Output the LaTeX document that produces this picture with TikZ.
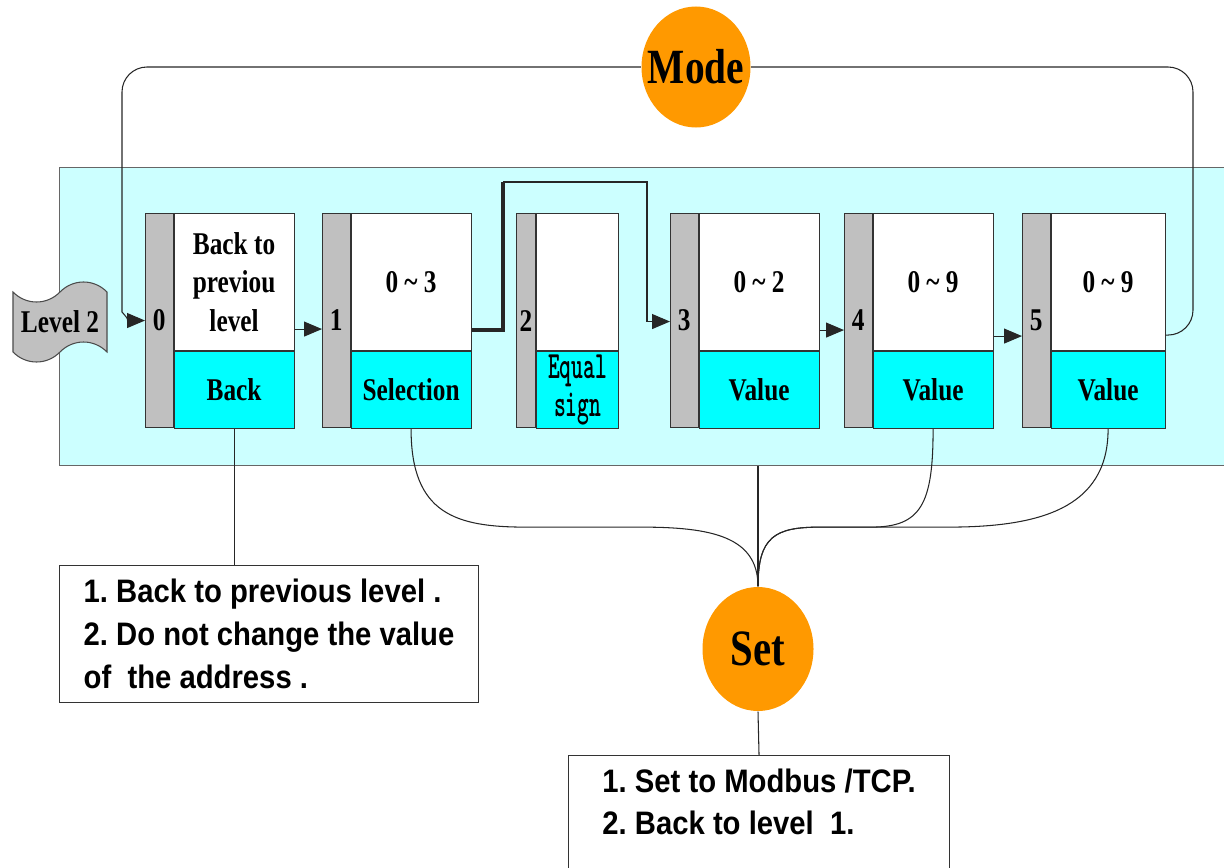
\documentclass[tikz,border=0pt]{standalone}
\usepackage{graphicx}
\usepackage{fontspec}
\setmainfont{Liberation Serif}
\newfontfamily\condserif[FakeStretch=0.8]{Liberation Serif}
\newfontfamily\condsans[FakeStretch=0.9]{Liberation Sans}
\usetikzlibrary{arrows.meta,positioning,calc,shapes.geometric,shapes.symbols}
\frenchspacing

\definecolor{panelcyan}{RGB}{204,255,255}
\definecolor{fieldcyan}{RGB}{0,255,255}
\definecolor{stripgray}{RGB}{192,192,192}
\definecolor{keyorange}{RGB}{255,153,0}

\tikzset{
  >={Triangle[length=3.6mm,width=3mm]},
  every picture/.append style={line width=0.6pt},
}
\newcommand{\cellfont}{\condserif\bfseries\fontsize{18}{22}\selectfont}
\newcommand{\keyfont}{\condserif\bfseries\fontsize{28}{30}\selectfont}
\newcommand{\notefont}{\condsans\bfseries\fontsize{18.5}{24.4}\selectfont}
\newcommand{\signfont}{\ttfamily\bfseries\fontsize{22}{21.5}\selectfont}
\newcommand{\squeeze}[1]{\scalebox{0.58}[1]{#1}}

\begin{document}
\begin{tikzpicture}[
  x=0.2mm, y=-0.2mm,
  strip/.style={draw=black!80, fill=stripgray, minimum width=5.5mm, minimum height=42.8mm, inner sep=0pt, anchor=north west, font=\cellfont},
  cellhead/.style={draw=black!80, fill=white, minimum width=24mm, minimum height=27.4mm, inner sep=0pt, align=center, anchor=north west, font=\cellfont},
  cellfoot/.style={draw=black!80, fill=fieldcyan, minimum width=24mm, minimum height=15.4mm, inner sep=0pt, align=center, font=\cellfont},
  bubble/.style={ellipse, fill=keyorange, inner sep=0pt, font=\keyfont},
  note/.style={draw=black!80, fill=white, align=left, inner xsep=0pt, anchor=north west, font=\notefont},
  link/.style={draw=black!85},
  arrow/.style={->, draw=black!85}
]
\useasboundingbox (0,0) rectangle (1224,867);

% --- backdrop of level 2 ---
\node[draw=black!60, fill=panelcyan, minimum width=240mm, minimum height=59.6mm, anchor=north west, inner sep=0pt] (panel) at (59,167) {};
\node[tape, draw=black!70, fill=stripgray, minimum width=18.8mm, minimum height=16mm, tape bend height=4mm, inner sep=0pt, font=\cellfont] (level) at (60,322) {Level 2};

% --- address cells 0..5 ---
\node[strip] (s0) at (145,213) {0};
\node[cellhead] (t0) at (s0.north east) {Back to\\previou\\level};
\node[cellfoot, below=0pt of t0] (v0) {Back};

\node[strip] (s1) at (322,213) {1};
\node[cellhead] (t1) at (s1.north east) {0 \textasciitilde\ 3};
\node[cellfoot, below=0pt of t1] (v1) {Selection};

\node[strip, minimum width=3.8mm] (s2) at (516,213) {2};
\node[cellhead, minimum width=16.4mm] (t2) at (s2.north east) {};
\node[cellfoot, minimum width=16.4mm, below=0pt of t2, font=\signfont] (v2) {\squeeze{Equal}\\\squeeze{sign}};

\node[strip] (s3) at (670,213) {3};
\node[cellhead] (t3) at (s3.north east) {0 \textasciitilde\ 2};
\node[cellfoot, below=0pt of t3] (v3) {Value};

\node[strip] (s4) at (844,213) {4};
\node[cellhead] (t4) at (s4.north east) {0 \textasciitilde\ 9};
\node[cellfoot, below=0pt of t4] (v4) {Value};

\node[strip] (s5) at (1022,213) {5};
\node[cellhead, minimum width=22.8mm] (t5) at (s5.north east) {0 \textasciitilde\ 9};
\node[cellfoot, minimum width=22.8mm, below=0pt of t5] (v5) {Value};

% --- keys ---
\node[bubble, minimum width=21.8mm, minimum height=24.2mm] (mode) at (696,67) {\makebox[0pt]{Mode}};
\node[bubble, minimum width=22.2mm, minimum height=24.8mm, font=\condserif\bfseries\fontsize{29}{30}\selectfont] (set) at (758,649) {\makebox[0pt]{Set}};

% --- notes ---
\node[note, minimum width=83.8mm, minimum height=27.4mm] (backnote) at (59,565) {1. Back to previous level .\\2. Do not change the value\\of\ \ the address .};
\node[note, minimum width=76.2mm, inner ysep=2.6mm, text depth=10mm] (setnote) at (568,755) {1. Set to Modbus /TCP.\\2. Back to level\ \ 1.};

% --- forward chain ---
\coordinate (jog) at (503,182);
\draw[arrow] ($(t0.south east)+(0,-22)$) coordinate (o0) -- (o0 -| s1.west);
\draw[link, line width=2pt] ($(t1.south east)+(0,-21)$) coordinate (o1) -| (jog);
\draw[arrow] (jog) -| ($(s3.west)+(-23,1)$) -- ($(s3.west)+(0,1)$);
\draw[arrow] ($(t3.south east)+(0,-21)$) coordinate (o3) -- (o3 -| s4.west);
\draw[arrow] ($(t4.south east)+(0,-15)$) coordinate (o4) -- (o4 -| s5.west);

% --- mode loop ---
\coordinate (loopL) at (122,67);
\coordinate (loopR) at (1193,67);
\draw[link, rounded corners=5mm] ($(t5.south east)+(0,-16)$) -| (loopR) -- (mode.east);
\draw[arrow, rounded corners=5mm] (mode.west) -- (loopL) -- ($(loopL)+(0,220)$) .. controls +(0,25) and +(-15,0) .. (s0.west);

% --- set links ---
\draw[link] (v1.south) .. controls +(0,85) and +(-70,0) .. ++(115,98) -- ++(115,0) .. controls +(70,0) and +(0,-50) .. (set.north);
\draw[link] (v4.south) .. controls +(0,75) and +(50,0) .. ++(-62,98) -- ++(-51,0) .. controls +(-45,0) and +(0,-50) .. (set.north);
\draw[link] (v5.south) .. controls +(0,80) and +(90,0) .. ++(-160,98) -- ++(-128,0) .. controls +(-45,0) and +(0,-50) .. (set.north);
\draw[link] (panel.south -| set.north) -- (set.north);

% --- notes links ---
\draw[link] (v0.south) -- (v0.south |- backnote.north);
\draw[link] (set.south) -- (setnote.north);

\end{tikzpicture}
\end{document}
